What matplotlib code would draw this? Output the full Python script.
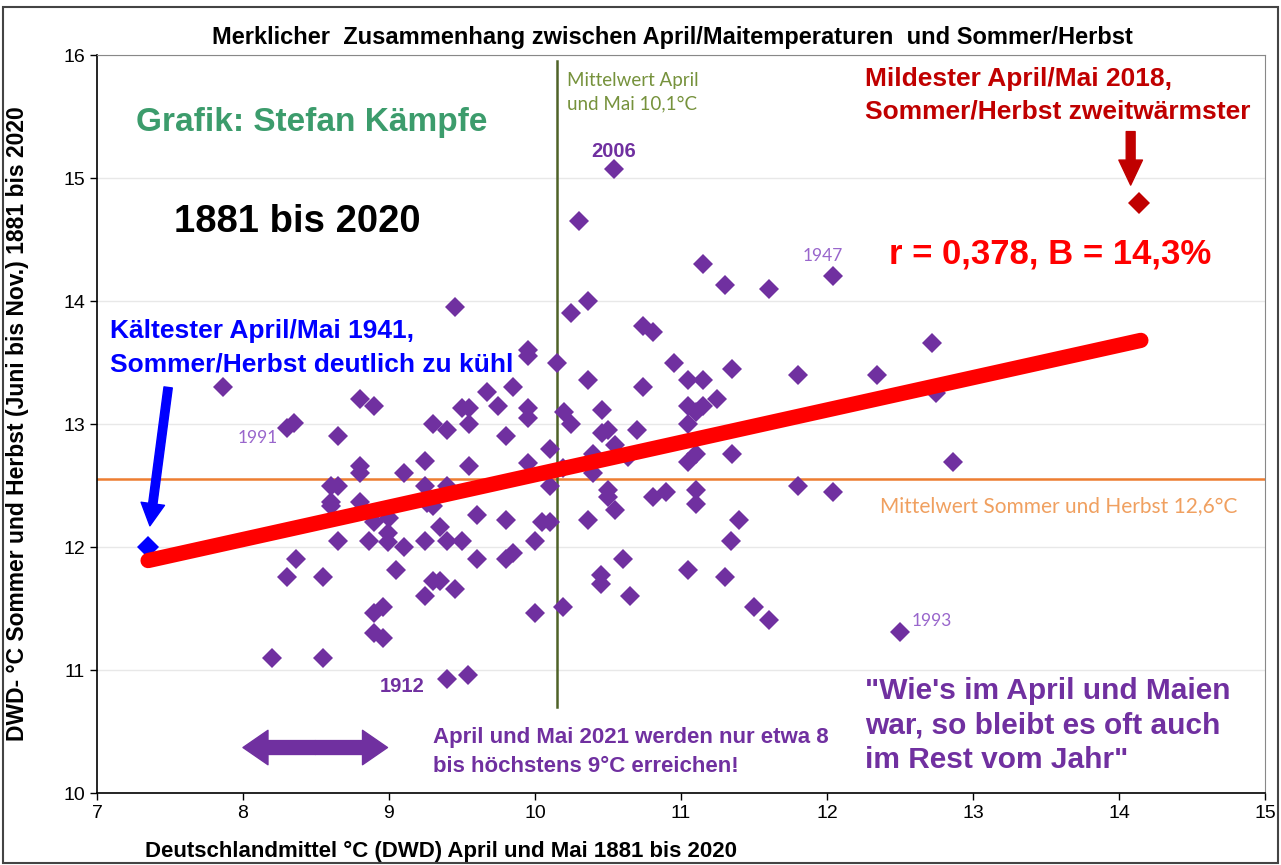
#!/usr/bin/env python3
# -*- coding: utf-8 -*-

"""
April/Mai vs. Sommer/Herbst temperatures (DWD, 1881-2020)
"""

import matplotlib
matplotlib.use("Agg")
import matplotlib.pyplot as plt
from matplotlib.patches import FancyArrowPatch, Rectangle

# data
apr_mai = [7.86, 8.30, 8.35, 8.20, 8.55, 8.30, 8.36, 8.55, 8.65, 8.80,
           8.90, 8.60, 8.65, 8.60, 8.60, 8.80, 8.80, 8.80, 8.65, 8.86,
           8.90, 9.00, 8.99, 8.99, 9.10, 9.10, 9.25, 9.25, 9.26, 9.30,
           9.25, 9.35, 9.40, 9.50, 9.40, 9.55, 9.60, 9.60, 9.80, 9.80,
           9.85, 10.00, 10.05, 10.10, 10.10, 9.95, 10.10, 9.30, 9.40, 9.55,
           9.50, 9.55, 9.67, 9.75, 9.85, 9.80, 9.95, 9.95, 9.95, 9.95,
           10.15, 10.25, 9.45, 10.20, 10.25, 9.05, 9.30, 9.35, 9.25, 9.45,
           8.90, 8.96, 8.90, 8.96, 9.40, 9.54, 10.00, 10.19, 10.54, 10.30,
           11.15, 11.30, 11.60, 12.04, 10.36, 10.74, 10.81, 10.95, 11.35, 11.80,
           12.34, 12.72, 12.75, 10.36, 10.74, 11.05, 11.15, 11.05, 11.15, 11.10,
           11.25, 11.05, 10.46, 10.46, 10.50, 10.70, 10.55, 10.40, 11.05, 11.10,
           11.35, 12.86, 10.64, 10.40, 10.19, 10.50, 10.50, 10.55, 10.81, 10.90,
           11.10, 11.10, 11.80, 12.04, 11.40, 10.36, 11.34, 10.60, 10.45, 10.45,
           10.65, 11.05, 11.30, 11.50, 11.60, 12.50]
som_herbst = [13.30, 12.97, 13.01, 11.10, 11.10, 11.76, 11.90, 11.76, 12.90, 13.20,
              13.15, 12.50, 12.50, 12.37, 12.33, 12.66, 12.60, 12.37, 12.05, 12.05,
              12.20, 12.24, 12.11, 12.04, 12.00, 12.60, 12.70, 12.50, 12.36, 12.33,
              12.05, 12.16, 12.05, 12.05, 12.50, 12.66, 12.26, 11.90, 12.22, 11.90,
              11.95, 12.05, 12.20, 12.20, 12.50, 12.68, 12.80, 13.00, 12.95, 13.00,
              13.13, 13.13, 13.26, 13.15, 13.30, 12.90, 13.13, 13.05, 13.60, 13.55,
              13.50, 13.90, 13.95, 13.10, 13.00, 11.81, 11.72, 11.72, 11.60, 11.66,
              11.46, 11.51, 11.30, 11.26, 10.93, 10.96, 11.46, 11.51, 15.07, 14.65,
              14.30, 14.13, 14.10, 14.20, 14.00, 13.80, 13.75, 13.50, 13.45, 13.40,
              13.40, 13.66, 13.25, 13.36, 13.30, 13.36, 13.36, 13.15, 13.15, 13.10,
              13.20, 13.00, 13.11, 12.93, 12.95, 12.95, 12.83, 12.76, 12.69, 12.76,
              12.76, 12.69, 12.73, 12.60, 12.64, 12.46, 12.41, 12.30, 12.41, 12.45,
              12.46, 12.35, 12.50, 12.45, 12.22, 12.22, 12.05, 11.90, 11.77, 11.70,
              11.60, 11.81, 11.76, 11.51, 11.41, 11.31]

kalt_1941 = (7.35, 12.00)
mild_2018 = (14.14, 14.80)

trend_x = [7.35, 14.15]
trend_y = [11.89, 13.68]

mittel_apr_mai = 10.15
mittel_som_herbst = 12.55

x_ticks = [7, 8, 9, 10, 11, 12, 13, 14, 15]
y_ticks = [10, 11, 12, 13, 14, 15, 16]

purple = '#7030A0'
bold = ['Liberation Sans', 'DejaVu Sans']
narrow = ['Liberation Sans Narrow', 'Liberation Sans', 'DejaVu Sans']
calib = ['Lato', 'DejaVu Sans']

fig = plt.figure(figsize=(12.81, 8.65), dpi=100)
fig.patches.append(Rectangle((0.002, 0.002), 0.996, 0.99, transform=fig.transFigure,
                             fill=False, edgecolor='#444444', linewidth=1.5))
ax = fig.add_axes([0.0757, 0.0832, 0.9118, 0.8532])

ax.set_xlim(7, 15)
ax.set_ylim(10, 16)
ax.set_xticks(x_ticks)
ax.set_yticks(y_ticks)
ax.grid(axis='y', color='#e8e8e8', linewidth=1)
ax.set_axisbelow(True)
for s in ['top', 'right']:
    ax.spines[s].set_color('#888888')
for s in ['left', 'bottom']:
    ax.spines[s].set_color('black')
    ax.spines[s].set_linewidth(1.2)
ax.tick_params(direction='out', length=5, width=1, labelsize=14)
for lab in ax.get_xticklabels() + ax.get_yticklabels():
    lab.set_family(narrow)

# mean lines
ax.axhline(mittel_som_herbst, color='#ED7D31', linewidth=1.8, zorder=2)
ax.plot([mittel_apr_mai, mittel_apr_mai], [10.7, 15.95], color='#4F6228', linewidth=1.8, zorder=2)

# points
ax.plot(apr_mai, som_herbst, 'D', color=purple, markersize=10, markeredgewidth=0, zorder=3)
ax.plot(kalt_1941[0], kalt_1941[1], 'D', color='#0000FF', markersize=11, markeredgewidth=0, zorder=4)
ax.plot(mild_2018[0], mild_2018[1], 'D', color='#C00000', markersize=11, markeredgewidth=0, zorder=4)

# trend line
ax.plot(trend_x, trend_y, color='#FF0000', linewidth=11, solid_capstyle='round', zorder=5)

# texts
fig.text(0.525, 0.957, 'Merklicher  Zusammenhang zwischen April/Maitemperaturen  und Sommer/Herbst',
         ha='center', va='center', fontsize=17, fontweight='bold', family=narrow)
ax.text(7.27, 15.45, 'Grafik: Stefan Kämpfe', color='#3C9C6C', fontsize=24, fontweight='bold',
        family=bold, va='center')
ax.text(10.22, 15.70, 'Mittelwert April\nund Mai 10,1°C', color='#76923C', fontsize=13.5,
        family=calib, va='center', linespacing=1.45)
ax.text(10.54, 15.17, '2006', color=purple, fontsize=14.5, fontweight='bold', family=bold, ha='center')
ax.text(12.26, 15.67, 'Mildester April/Mai 2018,\nSommer/Herbst zweitwärmster', color='#C00000',
        fontsize=19, fontweight='bold', family=bold, ha='left', va='center', linespacing=1.45)
ax.text(7.53, 14.64, '1881 bis 2020', color='black', fontsize=27.5, fontweight='bold', family=bold,
        va='center')
ax.text(13.53, 14.38, 'r = 0,378, B = 14,3%', color='#FF0000', fontsize=25, fontweight='bold',
        family=bold, ha='center', va='center')
ax.text(11.97, 14.37, '1947', color='#9966CC', fontsize=12.5, family=calib, ha='center', va='center')
ax.text(7.09, 13.62, 'Kältester April/Mai 1941,\nSommer/Herbst deutlich zu kühl', color='#0000FF',
        fontsize=19, fontweight='bold', family=bold, va='center', linespacing=1.45)
ax.text(8.1, 12.89, '1991', color='#9966CC', fontsize=12.5, family=calib, ha='center', va='center')
ax.text(12.36, 12.33, 'Mittelwert Sommer und Herbst 12,6°C', color='#F0A060', fontsize=15,
        family=calib, ha='left', va='center')
ax.text(12.72, 11.4, '1993', color='#9966CC', fontsize=12.5, family=calib, ha='center', va='center')
ax.text(9.09, 10.87, '1912', color=purple, fontsize=14.5, fontweight='bold', family=bold, ha='center',
        va='center')
ax.text(12.26, 10.55, '"Wie\'s im April und Maien\nwar, so bleibt es oft auch\nim Rest vom Jahr"',
        color=purple, fontsize=21.5, fontweight='bold', family=bold, ha='left', va='center',
        linespacing=1.3)
ax.text(9.3, 10.33, 'April und Mai 2021 werden nur etwa 8\nbis höchstens 9°C erreichen!',
        color=purple, fontsize=16, fontweight='bold', family=narrow, va='center', linespacing=1.5)

ax.set_xlabel('Deutschlandmittel °C (DWD) April und Mai 1881 bis 2020', fontsize=16,
              fontweight='bold', family=narrow, loc='left', labelpad=10)
ax.xaxis.set_label_coords(0.041, -0.065)
ax.set_ylabel('DWD- °C Sommer und Herbst (Juni bis Nov.) 1881 bis 2020', fontsize=16.5,
              fontweight='bold', family=narrow)
ax.yaxis.set_label_coords(-0.058, 0.5)

# arrows
ax.add_patch(FancyArrowPatch((14.08, 15.4), (14.08, 14.92),
                             arrowstyle='simple,head_length=0.9,head_width=0.85,tail_width=0.32',
                             mutation_scale=20, color='#C00000', zorder=6))
ax.add_patch(FancyArrowPatch((7.49, 13.32), (7.36, 12.15),
                             arrowstyle='simple,head_length=0.8,head_width=0.85,tail_width=0.3',
                             mutation_scale=20, color='#0000FF', zorder=6))
mid = 8.495
for end in (8.0, 8.99):
    ax.add_patch(FancyArrowPatch((mid, 10.37), (end, 10.37),
                                 arrowstyle='simple,head_length=0.45,head_width=0.62,tail_width=0.25',
                                 mutation_scale=40, color=purple, shrinkA=0, shrinkB=0, zorder=6))

plt.savefig('out.png', dpi=100)
